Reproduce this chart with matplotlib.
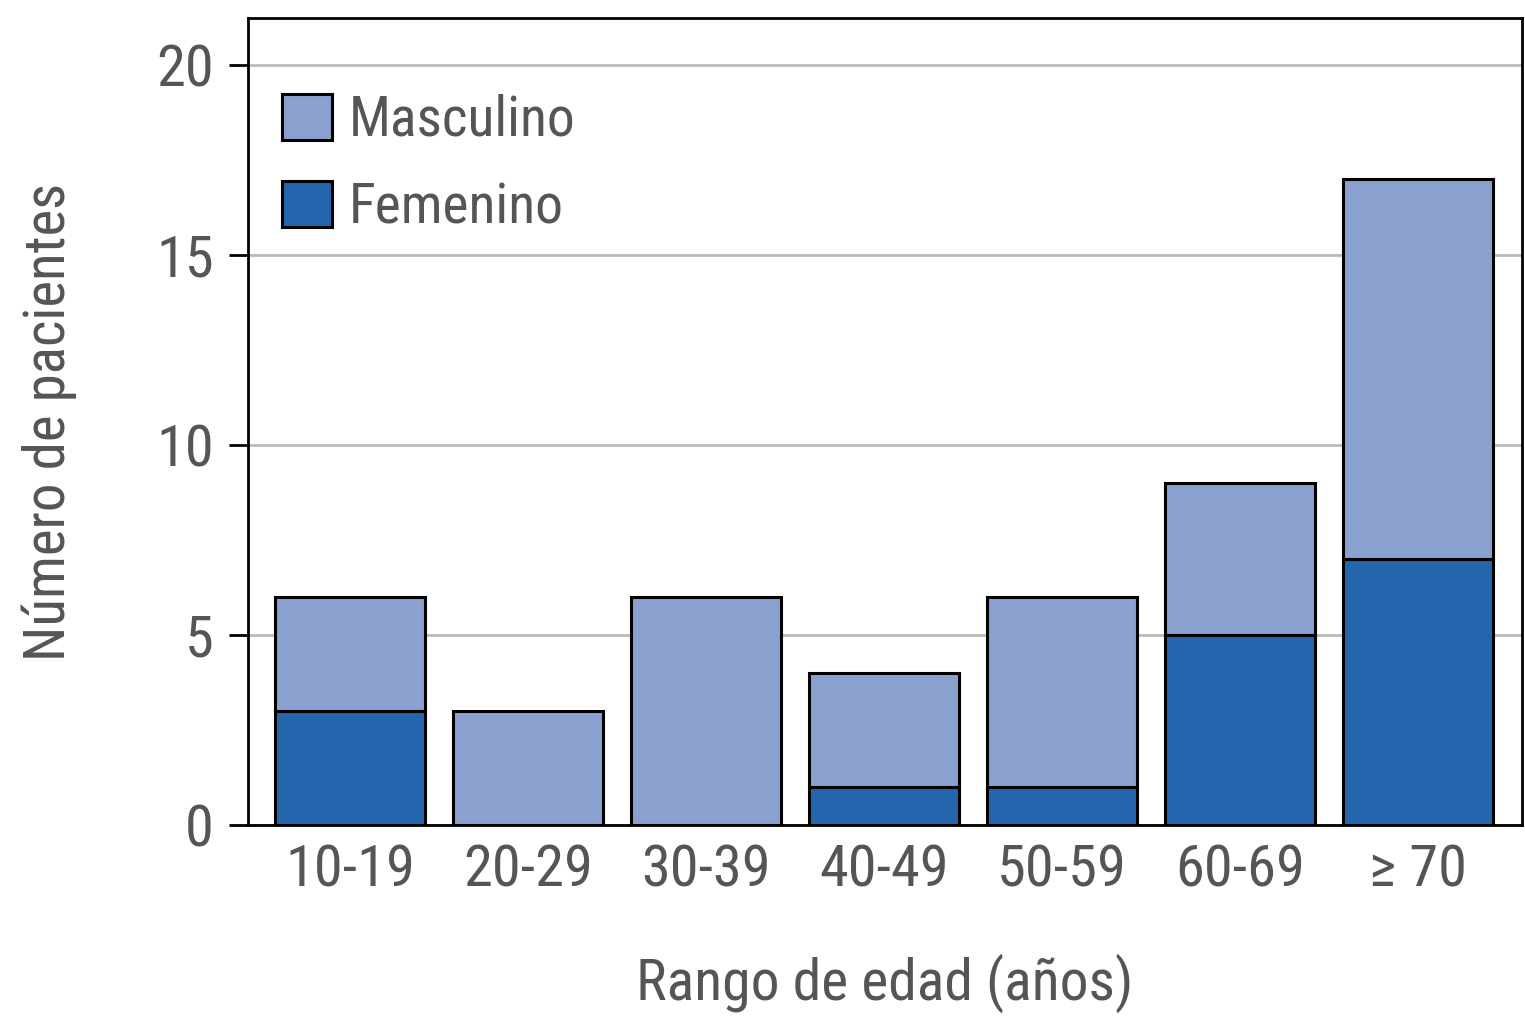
import numpy as np
import matplotlib.pyplot as plt

plt.rcParams['font.family'] = ['Roboto Condensed', 'Liberation Sans Narrow', 'DejaVu Sans']
plt.rcParams['font.stretch'] = 'condensed'

grupos = ['10-19', '20-29', '30-39', '40-49', '50-59', '60-69', '≥ 70']
femenino = [3, 0, 0, 1, 1, 5, 7]
masculino = [3, 3, 6, 3, 5, 4, 10]

gris = '#555555'
x = np.arange(len(grupos))

fig = plt.figure(figsize=(15.25, 10.24), dpi=100)
ax = fig.add_axes([0.1626, 0.1943, 0.8354, 0.7881])

ax.bar(x, femenino, width=0.84, color='#2366AD', edgecolor='black', linewidth=2.2,
       label='Femenino', zorder=3)
ax.bar(x, masculino, width=0.84, bottom=femenino, color='#8AA0CF', edgecolor='black',
       linewidth=2.2, label='Masculino', zorder=3)

ax.set_xlim(-0.573, 6.584)
ax.set_ylim(0, 21.24)
ax.set_yticks([0, 5, 10, 15, 20])
ax.set_xticks(x)
ax.set_xticklabels(grupos)
ax.yaxis.grid(True, color='#BBBBBB', linewidth=2, zorder=0)
ax.tick_params(axis='y', length=14, width=2, colors='black', labelcolor=gris,
               labelsize=42, pad=10.5)
ax.tick_params(axis='x', length=0, labelcolor=gris, labelsize=42, pad=13)
for s in ax.spines.values():
    s.set_linewidth(2)

ax.set_xlabel('Rango de edad (años)', fontsize=41.5, color=gris, labelpad=40)
ax.set_ylabel('Número de pacientes', fontsize=41, color=gris, labelpad=57)

h, l = ax.get_legend_handles_labels()
ax.legend(h[::-1], l[::-1], loc='upper left', bbox_to_anchor=(0.0094, 0.934),
          frameon=False, fontsize=40, labelcolor=gris, handlelength=0.9,
          handleheight=0.9, borderaxespad=0, labelspacing=0.62, handletextpad=0.3)

fig.savefig('out.png', dpi=100)
